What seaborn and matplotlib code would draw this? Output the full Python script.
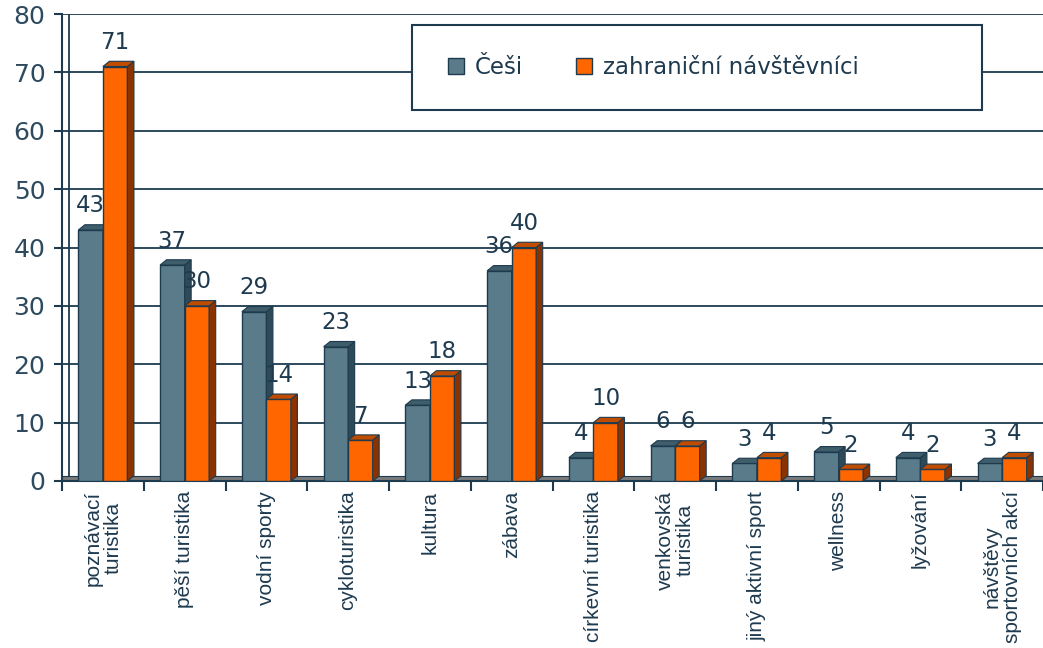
import matplotlib
matplotlib.use("Agg")
import matplotlib.pyplot as plt
from matplotlib.patches import Patch, Polygon, Rectangle
import numpy as np
import pandas as pd
import seaborn as sns

# ---- data ----
categories = ["poznávací\nturistika", "pěší turistika", "vodní sporty", "cykloturistika",
              "kultura", "zábava", "církevní turistika", "venkovská\nturistika",
              "jiný aktivní sport", "wellness", "lyžování", "návštěvy\nsportovních akcí"]
cesi = [43, 37, 29, 23, 13, 36, 4, 6, 3, 5, 4, 3]
zahranicni = [71, 30, 14, 7, 18, 40, 10, 6, 4, 2, 2, 4]
series_names = ["Češi", "zahraniční návštěvníci"]
yticks = [0, 10, 20, 30, 40, 50, 60, 70, 80]

# ---- styles ----
GRAY = "#5a7c8a"
ORANGE = "#ff6600"
NAVY = "#1e3a4f"
SIDE = ["#2f4a57", "#8a3300"]
TOP = ["#3f5e6b", "#c04c00"]

df = pd.DataFrame({
    "kategorie": categories * 2,
    "hodnota": cesi + zahranicni,
    "skupina": [series_names[0]] * len(categories) + [series_names[1]] * len(categories),
})

sns.set_theme(style="white")
plt.rcParams["font.family"] = ["DejaVu Sans"]

fig = plt.figure(figsize=(10.43, 6.48), dpi=100)
fig.patch.set_facecolor("white")
ax = fig.add_axes([62 / 1043, 1 - 481 / 648, 1 - 62 / 1043, 467 / 648])

sns.barplot(data=df, x="kategorie", y="hodnota", hue="skupina",
            palette=[GRAY, ORANGE], saturation=1, width=0.6,
            edgecolor=NAVY, linewidth=1.0, ax=ax, legend=False)

ax.set_xlim(-0.5, len(categories) - 0.5)
ax.set_ylim(0, 80)

# pseudo-3D faces derived from the drawn bars
dx, dy = 0.08, 0.9
for i, cont in enumerate(ax.containers):
    z = 3 + i
    for p in cont.patches:
        p.set_zorder(z)
        x0, w, h = p.get_x(), p.get_width(), p.get_height()
        side = Polygon([(x0 + w, 0), (x0 + w + dx, dy), (x0 + w + dx, h + dy), (x0 + w, h)],
                       closed=True, facecolor=SIDE[i], edgecolor=NAVY, linewidth=0.8, zorder=z)
        top = Polygon([(x0, h), (x0 + dx, h + dy), (x0 + w + dx, h + dy), (x0 + w, h)],
                      closed=True, facecolor=TOP[i], edgecolor=NAVY, linewidth=0.8, zorder=z)
        ax.add_patch(side)
        ax.add_patch(top)
    ax.bar_label(cont, fmt="%d", padding=9, fontsize=16.5, color=NAVY, zorder=10)

# floor strip
ax.axhspan(0, dy, facecolor="#7a7a7a", edgecolor=NAVY, linewidth=0.8, zorder=2)

# grid & axes
ax.set_yticks(yticks)
ax.yaxis.grid(True, color=NAVY, linewidth=1.3, zorder=1)
ax.xaxis.grid(False)
ax.set_axisbelow(True)
for s in ["top", "right"]:
    ax.spines[s].set_visible(False)
for s in ["left", "bottom"]:
    ax.spines[s].set_color(NAVY)
    ax.spines[s].set_linewidth(1.5)
ax.axvline(-0.5 + dx, color=NAVY, linewidth=1.3, zorder=1)

ax.tick_params(axis="y", which="major", left=True, length=6, width=1.5, color=NAVY,
               labelsize=18, labelcolor="#2d4a5e", pad=6)
ax.set_xticks(range(len(categories)))
ax.set_xticklabels(categories, rotation=90, fontsize=15, family=["Liberation Sans", "DejaVu Sans"],
                   color=NAVY, va="top", ha="center", multialignment="center",
                   linespacing=1.05)
ax.set_xticks(np.arange(-0.5, len(categories), 1.0), minor=True)
ax.tick_params(axis="x", which="major", length=0, pad=7)
ax.tick_params(axis="x", which="minor", bottom=True, length=7, width=1.5, color=NAVY)
ax.set_xlabel("")
ax.set_ylabel("")

# legend box
box = Rectangle((0.357, 0.794), 0.581, 0.182, transform=ax.transAxes,
                facecolor="white", edgecolor=NAVY, linewidth=1.5, zorder=20)
ax.add_patch(box)
handles = [Patch(facecolor=GRAY, edgecolor=NAVY, linewidth=1.0),
           Patch(facecolor=ORANGE, edgecolor=NAVY, linewidth=1.0)]
leg = ax.legend(handles, series_names, ncol=2, frameon=False, loc="center left",
                bbox_to_anchor=(0.372, 0.885), fontsize=16.5, handlelength=0.7,
                handleheight=0.7, handletextpad=0.5, columnspacing=2.3)
for t in leg.get_texts():
    t.set_color(NAVY)
leg.set_zorder(21)

fig.savefig("out.png", dpi=100, facecolor="white")
